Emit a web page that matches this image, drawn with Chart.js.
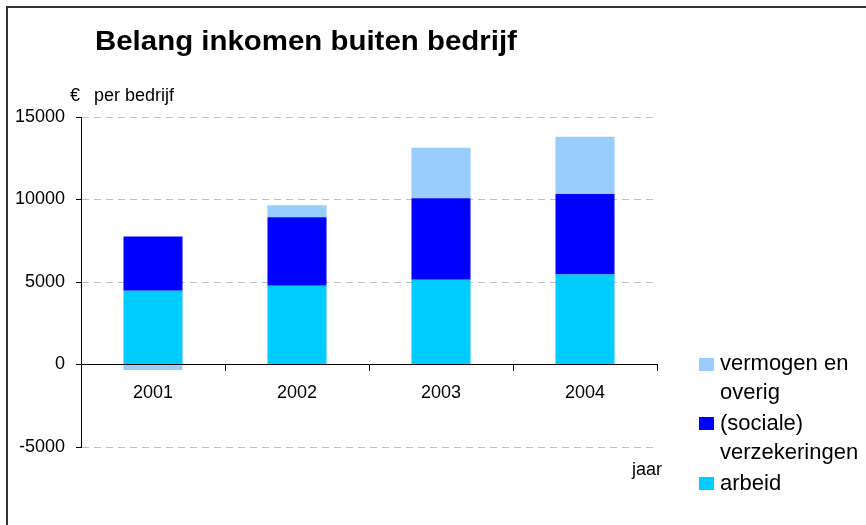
<!DOCTYPE html>
<html>
<head>
<meta charset="utf-8">
<title>Belang inkomen buiten bedrijf</title>
<script src="https://cdn.jsdelivr.net/npm/chart.js@4.4.1/dist/chart.umd.min.js"></script>
<style>
    body { margin: 0; background: #fff; font-family: "Liberation Sans", Arial, sans-serif; }
    #wrap { position: relative; width: 866px; height: 525px; overflow: hidden; background: #fff; }
    #frame { position: absolute; left: 6px; top: 6px; width: 900px; height: 600px; border-top: 2px solid #333; border-left: 2px solid #333; }
    #chart { position: absolute; left: 0; top: 0; }
    .txt { position: absolute; white-space: nowrap; color: #000; line-height: 1; }
    #title { left: 95px; top: 28px; font-size: 27px; font-weight: bold; transform: scaleX(1.09); transform-origin: left top; }
    #unit { left: 70px; top: 86px; font-size: 18px; }
    #unit span { margin-left: 14px; }
    #xname { left: 632px; top: 460px; font-size: 18px; }
    .sw { position: absolute; width: 15px; height: 13px; }
    .lg { position: absolute; left: 720px; font-size: 22px; line-height: 29px; white-space: nowrap; }
</style>
</head>
<body>
<div id="wrap">
    <canvas id="chart" width="866" height="525"></canvas>
    <div id="frame"></div>
    <div class="txt" id="title">Belang inkomen buiten bedrijf</div>
    <div class="txt" id="unit">€<span>per bedrijf</span></div>
    <div class="txt" id="xname">jaar</div>
    <div id="legend"></div>
</div>
<script>
const years = ['2001', '2002', '2003', '2004'];
const arbeid = [4470, 4780, 5140, 5450];
const verzekeringen = [3290, 4140, 4940, 4880];
const vermogen = [-330, 730, 3050, 3470];
const yTicks = [-5000, 0, 5000, 10000, 15000];

// legend lines as they wrap in the picture
const legendLines = {
    arbeid: ['arbeid'],
    verzekeringen: ['(sociale)', 'verzekeringen'],
    vermogen: ['vermogen en', 'overig']
};

document.addEventListener("DOMContentLoaded", function () {

    const datasets = [
        { label: 'arbeid', data: arbeid, backgroundColor: '#00CCFF' },
        { label: '(sociale) verzekeringen', data: verzekeringen, backgroundColor: '#0000FF' },
        { label: 'vermogen en overig', data: vermogen, backgroundColor: '#99CCFF' }
    ];
    datasets.forEach(ds => {
        ds.barPercentage = 0.41;
        ds.categoryPercentage = 1.0;
        ds.borderWidth = 0;
    });

    // solid value axis line (grid dash would otherwise be the only style)
    const yAxisLine = {
        id: 'yAxisLine',
        afterDraw(chart) {
            const y = chart.scales.y;
            const c = chart.ctx;
            const x = Math.round(y.right) + 0.5;
            c.save();
            c.strokeStyle = '#000';
            c.lineWidth = 1;
            c.beginPath();
            c.moveTo(x, y.getPixelForValue(15000));
            c.lineTo(x, y.getPixelForValue(-5000) + 0.5);
            c.stroke();
            c.restore();
        }
    };

    const ctx = document.getElementById('chart');
    new Chart(ctx, {
        type: 'bar',
        data: { labels: years, datasets: datasets },
        plugins: [yAxisLine],
        options: {
            responsive: false,
            animation: false,
            layout: { padding: { left: 0, top: 117, right: 209, bottom: 78 } },
            plugins: {
                legend: { display: false },
                title: { display: false },
                tooltip: { enabled: false }
            },
            scales: {
                x: {
                    stacked: true,
                    position: { y: 0 },
                    offset: true,
                    grid: {
                        offset: true,
                        drawOnChartArea: false,
                        tickLength: 6,
                        tickColor: '#000'
                    },
                    border: { color: '#000', width: 1 },
                    ticks: {
                        color: '#000',
                        padding: 12,
                        font: { family: '"Liberation Sans", Arial, sans-serif', size: 18 }
                    }
                },
                y: {
                    stacked: true,
                    min: -5000,
                    max: 15000,
                    afterBuildTicks: function (scale) {
                        scale.ticks = yTicks.map(v => ({ value: v }));
                    },
                    afterFit: function (scale) {
                        scale.width = 81;
                    },
                    grid: {
                        color: c => (c.tick && c.tick.value === 0) ? 'rgba(0,0,0,0)' : '#c0c0c0',
                        tickColor: '#000',
                        tickLength: 5,
                        lineWidth: 1
                    },
                    border: { color: '#000', width: 1, dash: [7, 5] },
                    ticks: {
                        color: '#000',
                        padding: 11,
                        callback: v => String(v),
                        font: { family: '"Liberation Sans", Arial, sans-serif', size: 18 }
                    }
                }
            }
        }
    });

    makeLegend(datasets);

    // legend on the right, top entry is the top of the stack
    function makeLegend(datasets) {
        const box = document.getElementById('legend');
        const keys = ['vermogen', 'verzekeringen', 'arbeid'];
        const colors = { arbeid: datasets[0].backgroundColor, verzekeringen: datasets[1].backgroundColor, vermogen: datasets[2].backgroundColor };
        const tops = [348, 408, 468];
        const swTops = [358, 417, 477];

        keys.forEach((k, i) => {
            const sw = document.createElement('div');
            sw.className = 'sw';
            sw.style.left = '699px';
            sw.style.top = swTops[i] + 'px';
            sw.style.background = colors[k];
            box.appendChild(sw);

            const t = document.createElement('div');
            t.className = 'lg';
            t.style.top = tops[i] + 'px';
            t.innerHTML = legendLines[k].join('<br>');
            box.appendChild(t);
        });
    }
});
</script>
</body>
</html>
